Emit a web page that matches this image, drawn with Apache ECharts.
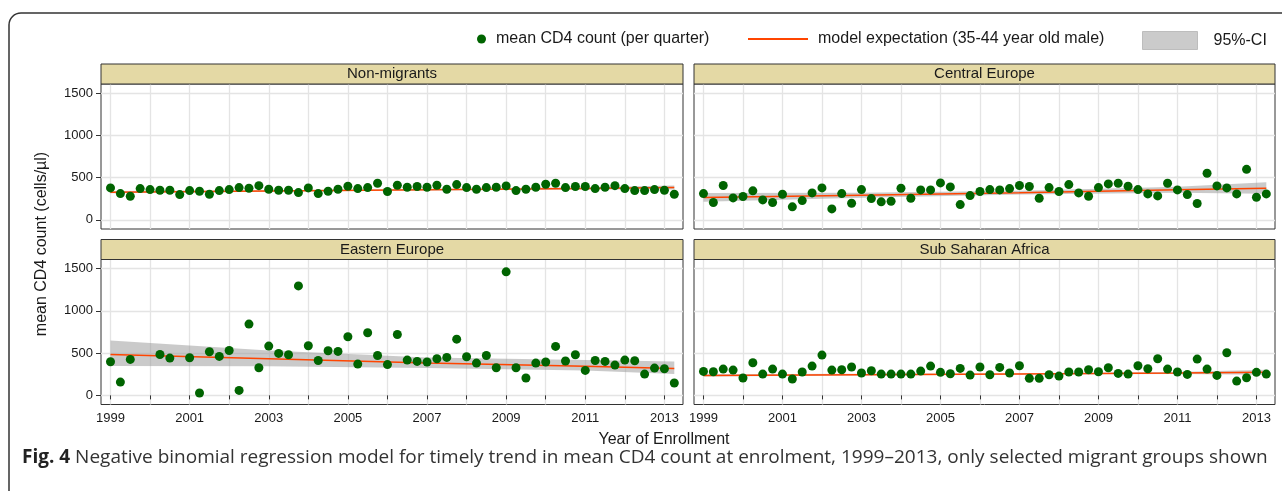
<!DOCTYPE html>
<html><head><meta charset="utf-8">
<script src="https://cdn.jsdelivr.net/npm/echarts@6/dist/echarts.min.js"></script>
<style>html,body{margin:0;padding:0;background:#fff}#c{width:1282px;height:491px}</style>
</head><body><div id="c"></div>
<script>
// ---------- DATA ----------
const panelNames = ['Non-migrants', 'Central Europe', 'Eastern Europe', 'Sub Saharan Africa'];
const firstYear = 1999;          // first enrolment quarter
const quarterCount = 58;         // 1999 Q1 .. 2013 Q2
const nonMigrants = [378,311,280,370,358,350,350,299,346,339, 303,346,358,382,374,405,362,350,350,323,
  378,311,339,362,398,370,382,433,335,409, 386,394,386,409,362,417,382,362,382,386,
  402,346,362,386,421,433,382,394,394,370, 386,405,370,346,346,358,350,303];
const centralEurope = [311,205,406,260,276,343,236,205,303,154, 228,319,378,130,311,197,358,252,213,220,
  374,256,354,354,437,390,181,287,335,358, 354,370,406,394,256,382,335,417,319,280,
  382,425,433,398,358,307,283,433,354,299, 193,551,402,378,307,598,268,307];
const easternEurope = [398,157,425,null,null,484,441,null,445,28, 516,461,531,59,843,327,583,496,480,1295,
  587,413,528,520,693,370,740,472,364,720, 417,402,394,433,449,665,457,382,472,327,
  1461,327,205,382,394,579,406,480,295,413, 402,358,417,409,252,323,315,146];
const subSaharanAfrica = [283,280,311,299,205,386,252,311,252,193, 276,346,476,299,303,335,264,291,252,252,
  252,252,287,346,272,256,319,240,335,244, 331,264,350,201,201,244,228,276,276,303,
  280,327,260,252,350,315,433,311,276,248, 429,311,236,504,169,209,272,252];

const modelYears = [1999, 2003, 2007, 2011, 2013.25];
const modelNonMigrants = [327, 341, 355, 371, 382];
const lowerNonMigrants = [314, 332, 347, 358, 360];
const upperNonMigrants = [341, 351, 364, 385, 406];
const modelCentralEurope = [264, 291, 321, 355, 374];
const lowerCentralEurope = [214, 262, 300, 320, 310];
const upperCentralEurope = [318, 320, 343, 392, 445];
const modelEasternEurope = [484, 433, 382, 344, 319];
const lowerEasternEurope = [346, 343, 323, 295, 252];
const upperEasternEurope = [650, 531, 448, 417, 402];
const modelSubSaharan = [236, 245, 254, 264, 272];
const lowerSubSaharan = [222, 236, 247, 253, 244];
const upperSubSaharan = [250, 255, 262, 277, 302];

const xTickYears = [1999,2000,2001,2002,2003,2004,2005,2006,2007,2008,2009,2010,2011,2012,2013];
const xLabelYears = [1999, 2001, 2003, 2005, 2007, 2009, 2011, 2013];
const yTicks = [0, 500, 1000, 1500];

const legendPoints = 'mean CD4 count (per quarter)';
const legendModel = 'model expectation (35-44 year old male)';
const legendCI = '95%-CI';
const xTitle = 'Year of Enrollment';
const yTitle = 'mean CD4 count (cells/µl)';
const captionBold = 'Fig. 4';
const captionText = ' Negative binomial regression model for timely trend in mean CD4 count at enrolment, 1999–2013, only selected migrant groups shown';

// ---------- BUILD ----------
const panelValues = [nonMigrants, centralEurope, easternEurope, subSaharanAfrica];
const panelModel = [modelNonMigrants, modelCentralEurope, modelEasternEurope, modelSubSaharan];
const panelLower = [lowerNonMigrants, lowerCentralEurope, lowerEasternEurope, lowerSubSaharan];
const panelUpper = [upperNonMigrants, upperCentralEurope, upperEasternEurope, upperSubSaharan];
const quarters = [];
for (let i = 0; i < quarterCount; i++) quarters.push(firstYear + i * 0.25);

const FONT = '"Liberation Sans", Arial, Helvetica, sans-serif';
const TXT = '#1a1a1a';
const layout = [
  {left: 101, top: 84, width: 582, showX: false, showY: true},
  {left: 694, top: 84, width: 581, showX: false, showY: false},
  {left: 101, top: 259.5, width: 582, showX: true, showY: true},
  {left: 694, top: 259.5, width: 581, showX: true, showY: false}
];
const PH = 145, STRIP = 20;
const gridLine = {show: true, lineStyle: {color: '#e4e4e4', width: 1.3}};

function bandRenderer(params, api) {
  if (params.dataIndex !== 0) return null;
  const n = params.dataInsideLength !== undefined ? null : null;
  const data = params.context.bandData;
  return null;
}

const grids = [], xAxes = [], yAxes = [], series = [], graphics = [];
layout.forEach((L, i) => {
  grids.push({left: L.left, top: L.top, width: L.width, height: PH, show: true,
    borderColor: '#333', borderWidth: 1, backgroundColor: '#fff', containLabel: false});
  xAxes.push({type: 'value', gridIndex: i, min: 1998.76, max: 2013.47,
    axisLine: {show: false},
    axisTick: {show: L.showX, customValues: xTickYears, length: 4, lineStyle: {color: '#333'}},
    axisLabel: {show: L.showX, customValues: xLabelYears, margin: 7, fontSize: 13, color: TXT, fontFamily: FONT,
      formatter: v => String(v)},
    splitLine: gridLine});
  yAxes.push({type: 'value', gridIndex: i, min: -108, max: 1607,
    axisLine: {show: false},
    axisTick: {show: L.showY, customValues: yTicks, length: 5, lineStyle: {color: '#333'}},
    axisLabel: {show: L.showY, customValues: yTicks, margin: 8, fontSize: 13, color: TXT, fontFamily: FONT,
      formatter: v => String(v)},
    splitLine: gridLine});
  const low = panelLower[i], up = panelUpper[i];
  const bandData = modelYears.map((x, k) => [x, low[k], up[k]]);
  series.push({type: 'custom', name: legendCI, xAxisIndex: i, yAxisIndex: i, coordinateSystem: 'cartesian2d',
    data: bandData, encode: {x: 0, y: [1, 2]}, silent: true, z: 2, itemStyle: {color: '#cbcbcb'},
    renderItem: (params, api) => {
      if (params.dataIndex !== 0) return null;
      const upperPts = bandData.map(d => api.coord([d[0], d[2]]));
      const lowerPts = bandData.map(d => api.coord([d[0], d[1]])).reverse();
      return {type: 'polygon', shape: {points: upperPts.concat(lowerPts)},
        style: {fill: 'rgba(150,150,150,0.5)'}};
    }});
  series.push({type: 'line', name: legendModel, xAxisIndex: i, yAxisIndex: i,
    data: modelYears.map((x, k) => [x, panelModel[i][k]]), symbol: 'none',
    lineStyle: {color: '#ff4500', width: 1.5}, itemStyle: {color: '#ff4500'}, z: 3});
  series.push({type: 'scatter', name: legendPoints, xAxisIndex: i, yAxisIndex: i,
    data: quarters.map((x, k) => [x, panelValues[i][k]]).filter(d => d[1] !== null),
    symbol: 'circle', symbolSize: 9, itemStyle: {color: '#006400', opacity: 1}, z: 4});
  // strip
  graphics.push({type: 'rect', shape: {x: L.left, y: L.top - STRIP, width: L.width, height: STRIP},
    style: {fill: '#e4d9a5', stroke: '#333', lineWidth: 1}, z: 10});
  graphics.push({type: 'text', x: L.left + L.width / 2, y: L.top - STRIP / 2,
    style: {text: panelNames[i], fill: TXT, font: '15px ' + FONT, textAlign: 'center', textVerticalAlign: 'middle'}, z: 11});
});

// outer frame
graphics.push({type: 'rect', shape: {x: 9, y: 13, width: 1320, height: 530, r: 12},
  style: {fill: 'none', stroke: '#333', lineWidth: 1.5}, z: 0, silent: true});
// axis titles
graphics.push({type: 'text', x: 42, y: 244, rotation: Math.PI / 2,
  style: {text: yTitle, fill: TXT, font: '16px ' + FONT, textAlign: 'center', textVerticalAlign: 'middle'}, z: 11});
graphics.push({type: 'text', x: 664, y: 440,
  style: {text: xTitle, fill: TXT, font: '16px ' + FONT, textAlign: 'center', textVerticalAlign: 'middle'}, z: 11});
// caption
graphics.push({type: 'text', x: 22, y: 458,
  style: {text: '{b|' + captionBold + '}{r|' + captionText + '}', textVerticalAlign: 'middle',
    rich: {b: {font: 'bold 19px "Open Sans", sans-serif', fill: '#222'},
           r: {font: '19px "Open Sans", sans-serif', fill: '#333'}}}, z: 11});

const legendText = {fontSize: 16, color: TXT, fontFamily: FONT};
const option = {
  animation: false,
  backgroundColor: '#fff',
  grid: grids, xAxis: xAxes, yAxis: yAxes, series: series,
  legend: [
    {data: [{name: legendPoints, icon: 'circle'}], left: 477, top: 31, padding: 0,
      itemWidth: 19, itemHeight: 9, selectedMode: false, textStyle: legendText},
    {data: [{name: legendModel, icon: 'rect', itemStyle: {color: '#ff4500'}}], left: 748, top: 31, padding: 0,
      itemWidth: 60, itemHeight: 2, selectedMode: false, textStyle: Object.assign({padding: [0, 0, 0, 5]}, legendText)},
    {data: [{name: legendCI, icon: 'rect', itemStyle: {color: '#cbcbcb', borderColor: '#bdbdbd', borderWidth: 1}}],
      left: 1142, top: 31, padding: 0, itemWidth: 55, itemHeight: 18, selectedMode: false,
      textStyle: Object.assign({padding: [0, 0, 0, 11]}, legendText)}
  ],
  graphic: graphics
};
const chart = echarts.init(document.getElementById('c'), null, {renderer: 'canvas'});
chart.setOption(option);
</script></body></html>
